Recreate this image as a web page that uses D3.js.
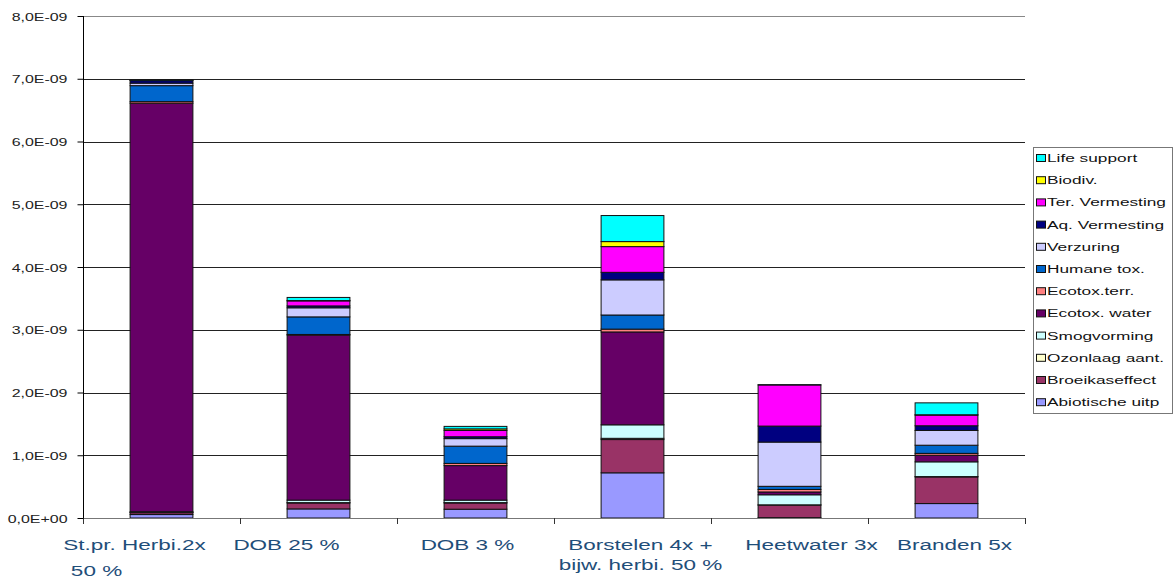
<!DOCTYPE html>
<html><head><meta charset="utf-8">
<script src="https://cdn.jsdelivr.net/npm/d3@7"></script>
<style>
html,body{margin:0;padding:0;background:#fff;}
svg{display:block;font-family:"Liberation Sans",Arial,sans-serif;}
</style></head>
<body>
<svg id="c" width="1174" height="580"></svg>
<script>
// ---- data (values in units of 1E-09) ----
const categories = ["St.pr. Herbi.2x|50 %", "DOB 25 %", "DOB 3 %", "Borstelen 4x  +|bijw. herbi. 50 %", "Heetwater 3x", "Branden 5x"];
const seriesNames = ["Abiotische uitp","Broeikaseffect","Ozonlaag aant.","Smogvorming","Ecotox. water","Ecotox.terr.","Humane tox.","Verzuring","Aq. Vermesting","Ter. Vermesting","Biodiv.","Life support"];
const abiotische  = [0.055, 0.145, 0.14,  0.72,  0.005, 0.23];
const broeikas    = [0.03,  0.095, 0.10,  0.53,  0.20,  0.425];
const ozonlaag    = [0.005, 0.005, 0.005, 0.02,  0.005, 0.005];
const smog        = [0.01,  0.04,  0.04,  0.215, 0.16,  0.235];
const ecotoxWater = [6.51,  2.63,  0.55,  1.48,  0.045, 0.105];
const ecotoxTerr  = [0.025, 0.01,  0.035, 0.045, 0.04,  0.03];
const humaneTox   = [0.255, 0.28,  0.275, 0.225, 0.05,  0.13];
const verzuring   = [0.04,  0.145, 0.12,  0.56,  0.705, 0.235];
const aqVerm      = [0.04,  0.03,  0.03,  0.12,  0.255, 0.075];
const terVerm     = [0.005, 0.08,  0.10,  0.41,  0.655, 0.17];
const biodiv      = [0.0,   0.005, 0.025, 0.08,  0.0,   0.005];
const lifeSupport = [0.005, 0.05,  0.04,  0.415, 0.005, 0.19];
const yTickValues = [0,1,2,3,4,5,6,7,8];
const yTickLabels = ["0,0E+00","1,0E-09","2,0E-09","3,0E-09","4,0E-09","5,0E-09","6,0E-09","7,0E-09","8,0E-09"];

// ---- styles / layout ----
const colors = ["#9999FF","#993366","#FFFFCC","#CCFFFF","#660066","#FF8080","#0066CC","#CCCCFF","#000080","#FF00FF","#FFFF00","#00FFFF"];
const labelDx = [-27, -32, -8, 8, 22, 8];
const M = {left:83, right:1025, top:16, bottom:518};
const SX = 1.5;

const allSeries = [abiotische,broeikas,ozonlaag,smog,ecotoxWater,ecotoxTerr,humaneTox,verzuring,aqVerm,terVerm,biodiv,lifeSupport];
const table = categories.map((c,i)=>{
  const row = {cat:c};
  seriesNames.forEach((s,k)=>row[s]=allSeries[k][i]*1e-9);
  return row;
});

const svg = d3.select("#c");
const x = d3.scaleBand().domain(categories).range([M.left,M.right]).paddingInner(0.6).paddingOuter(0.3);
const y = d3.scaleLinear().domain([0,8e-9]).range([M.bottom,M.top]);

// gridlines
svg.append("g").selectAll("line").data(yTickValues.filter(v=>v>0)).join("line")
  .attr("x1",M.left).attr("x2",M.right)
  .attr("y1",d=>Math.round(y(d*1e-9))+0.5).attr("y2",d=>Math.round(y(d*1e-9))+0.5)
  .attr("stroke",d=>d===8?"#888":"#222").attr("stroke-width",1);

// bars
const stack = d3.stack().keys(seriesNames)(table);
svg.append("g").selectAll("g").data(stack).join("g")
  .attr("fill",(d,i)=>colors[i])
  .selectAll("rect").data(d=>d).join("rect")
  .attr("x",d=>x(d.data.cat))
  .attr("width",x.bandwidth())
  .attr("y",d=>y(d[1]))
  .attr("height",d=>Math.max(0,y(d[0])-y(d[1])))
  .attr("stroke","#111").attr("stroke-width",1);

// x axis
svg.append("line").attr("x1",M.left).attr("x2",M.right).attr("y1",M.bottom+0.5).attr("y2",M.bottom+0.5).attr("stroke","#777");
const step = x.step();
svg.append("g").selectAll("line").data(d3.range(categories.length+1)).join("line")
  .attr("x1",d=>Math.round(M.left+d*step)+0.5).attr("x2",d=>Math.round(M.left+d*step)+0.5)
  .attr("y1",M.bottom).attr("y2",M.bottom+6).attr("stroke","#333");

// x labels
const xl = svg.append("g");
categories.forEach((c,i)=>{
  const lines = c.split("|");
  const cx = x(c)+x.bandwidth()/2+labelDx[i];
  lines.forEach((ln,j)=>{
    let dx = 0;
    if(i===0 && j===1) dx = -38;
    xl.append("text").text(ln)
      .attr("transform",`translate(${cx+dx},${550+j*(i===0?26:20)}) scale(${SX},1)`)
      .attr("text-anchor","middle").attr("font-size",15).attr("fill","#1F4E79");
  });
});

// y axis
const yAxis = d3.axisLeft(y).tickValues(yTickValues.map(v=>v*1e-9)).tickSize(6).tickFormat((d,i)=>yTickLabels[i]);
const ya = svg.append("g").attr("transform",`translate(${M.left+0.5},0)`).call(yAxis);
ya.select(".domain").attr("stroke","#000").attr("d",`M0,${M.top}V${M.bottom}`);
ya.selectAll(".tick line").attr("stroke","#000");
ya.selectAll(".tick text").attr("x",null).attr("dy",null)
  .attr("transform","translate(-16,4) scale(1.45,1)")
  .attr("font-size",11).attr("fill","#222").attr("font-family","'Liberation Sans',Arial,sans-serif");

// legend
const lg = svg.append("g");
lg.append("rect").attr("x",1033.5).attr("y",147.5).attr("width",139).attr("height",266).attr("fill","#fff").attr("stroke","#777");
const order = seriesNames.map((s,i)=>i).reverse();
order.forEach((k,j)=>{
  const yy = 158 + j*22.2;
  lg.append("rect").attr("x",1036.5).attr("y",yy-3.5).attr("width",9).attr("height",7)
    .attr("fill",colors[k]).attr("stroke","#111");
  lg.append("text").text(seriesNames[k])
    .attr("transform",`translate(1047,${yy+4}) scale(1.57,1)`)
    .attr("font-size",11).attr("fill","#111");
});
</script>
</body></html>
